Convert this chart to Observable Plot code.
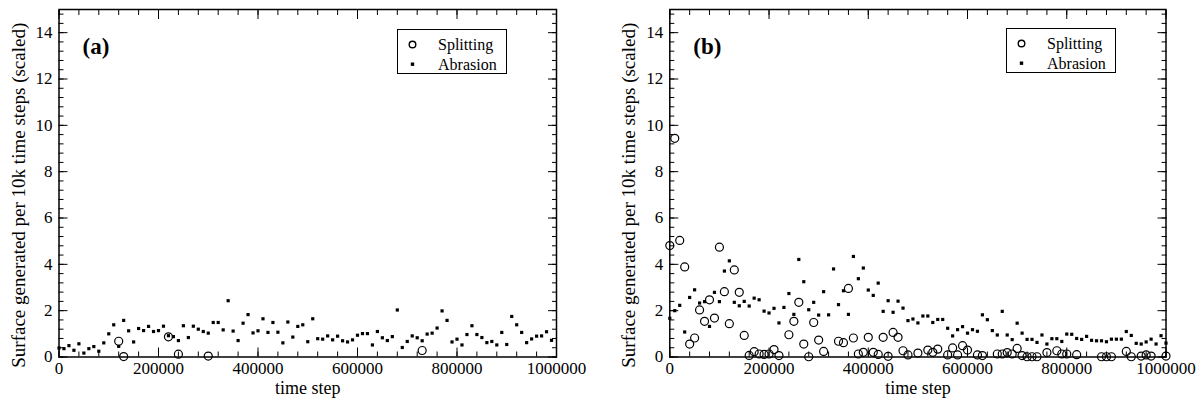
<!DOCTYPE html>
<html><head><meta charset="utf-8">
<script src="https://cdn.jsdelivr.net/npm/d3@7"></script>
<script src="https://cdn.jsdelivr.net/npm/@observablehq/plot@0.6"></script>
<style>
body{margin:0;background:#fff;}
#wrap{position:relative;width:1203px;height:402px;display:flex;overflow:hidden;}
svg text{font-family:"Liberation Serif",serif;}
.legend{position:absolute;border:1px solid #000;background:#fff;width:108px;height:43px;font-family:"Liberation Serif",serif;font-size:16px;color:#000;}
.legend .lab{position:absolute;left:40px;line-height:16px;}
.legend svg{position:absolute;left:0;top:0;}
</style></head><body><div id="wrap"></div>
<script>
const seriesNames = ["Splitting", "Abrasion"];
const panelLabels = ["(a)", "(b)"];
const xLabel = "time step";
const yLabel = "Surface generated per 10k time steps (scaled)";
const xTicksMajor = [0, 200000, 400000, 600000, 800000, 1000000];
const yTicksMajor = [0, 2, 4, 6, 8, 10, 12, 14];
const xTicksMinor = d3.range(0, 1000001, 40000);
const yTicksMinor = d3.range(0, 15.01, 0.4);
const sampleStep = 10000;

// Panel (a)
const abrasionA = [0.39,0.36,0.49,0.29,0.57,0.17,0.36,0.45,0.25,0.61,
 1.0,1.39,0.46,1.58,1.13,0.65,1.23,1.14,1.32,1.10,
 1.14,1.33,0.92,0.88,0.71,1.35,0.84,1.33,1.2,1.1,
 1.03,1.49,1.49,1.17,2.43,1.12,0.71,1.46,1.83,1.04,
 1.13,1.65,1.06,1.49,1.07,0.61,1.51,0.86,1.32,1.39,
 0.66,1.65,0.79,0.77,0.91,0.74,0.90,0.70,0.65,0.74,
 0.94,1.01,1.01,0.52,1.10,0.83,0.71,0.88,2.03,0.41,
 0.67,0.91,0.83,0.70,0.99,1.03,1.25,1.99,1.58,0.65,
 0.77,0.52,0.97,1.35,0.97,0.84,0.62,0.67,0.52,1.06,
 0.54,1.75,1.39,1.06,0.62,0.78,0.90,0.91,1.09,0.72];
const splitStepsA = [120000, 130000, 220000, 240000, 300000, 730000];
const splitValsA = [0.68, 0.02, 0.87, 0.12, 0.04, 0.28];

// Panel (b)
const abrasionB = [1.67,2.0,2.23,1.08,2.57,2.9,2.33,2.39,1.32,2.79,
 2.39,3.71,4.15,2.36,2.21,2.4,2.2,2.54,2.47,1.98,
 1.9,2.1,1.47,2.14,2.74,1.84,4.21,3.25,2.04,2.36,
 1.81,2.82,1.82,3.80,2.26,2.86,1.84,4.34,3.38,3.84,
 2.89,2.66,3.19,1.97,2.43,1.93,2.41,2.11,1.57,1.64,
 1.47,1.77,1.77,1.49,1.62,1.62,1.24,0.91,1.18,1.31,
 1.03,1.18,1.11,1.82,1.61,1.14,0.95,1.97,0.95,0.75,
 1.46,1.03,0.76,0.76,0.63,0.95,0.56,0.79,0.79,0.67,
 0.99,0.98,0.8,0.76,0.89,0.72,0.7,0.7,0.66,0.77,
 0.77,0.77,1.1,0.93,0.59,0.56,0.65,0.77,0.56,0.92,
 0.6];
const splitStepsB = [0,10000,20000,30000,40000,50000,60000,70000,80000,90000,
 100000,110000,120000,130000,140000,150000,160000,170000,180000,190000,
 200000,210000,220000,240000,250000,260000,270000,280000,290000,300000,
 310000,340000,350000,360000,370000,380000,390000,400000,410000,420000,
 430000,440000,450000,460000,470000,480000,500000,520000,530000,540000,
 560000,570000,580000,590000,600000,620000,630000,660000,670000,680000,
 690000,700000,710000,720000,730000,740000,760000,780000,790000,800000,
 820000,870000,880000,890000,920000,930000,950000,960000,970000,1000000];
const splitValsB = [4.81,9.44,5.03,3.89,0.56,0.82,2.03,1.54,2.47,1.68,
 4.74,2.82,1.44,3.76,2.79,0.93,0.07,0.23,0.13,0.11,
 0.13,0.32,0.06,0.96,1.54,2.36,0.56,0.01,1.49,0.73,
 0.24,0.68,0.62,2.96,0.82,0.13,0.2,0.85,0.2,0.11,
 0.85,0.03,1.06,0.85,0.27,0.09,0.17,0.30,0.2,0.34,
 0.09,0.39,0.09,0.49,0.3,0.09,0.06,0.13,0.13,0.19,
 0.13,0.37,0.06,0.01,0.01,0.01,0.19,0.27,0.13,0.13,
 0.1,0.01,0.01,0.01,0.24,0.01,0.04,0.09,0.04,0.04];

const font = "Liberation Serif";
const blank = () => "";

function panel({abrasion, splitSteps, splitVals, label, width, marginLeft, marginRight}) {
  const abr = abrasion.map((v, i) => ({x: i * sampleStep, y: v}));
  const spl = splitSteps.map((s, i) => ({x: s, y: splitVals[i]}));
  return Plot.plot({
    width, height: 402,
    marginLeft, marginRight, marginTop: 9, marginBottom: 45.5,
    style: {fontFamily: font, fontSize: "17px", color: "black", background: "white", overflow: "visible"},
    x: {domain: [0, 1000000]},
    y: {domain: [0, 15]},
    marks: [
      Plot.axisX(xTicksMinor, {anchor: "bottom", tickSize: -5, tickFormat: blank, label: null}),
      Plot.axisX(xTicksMajor, {anchor: "bottom", tickSize: -9, tickFormat: blank, label: null}),
      Plot.axisX(xTicksMinor, {anchor: "top", tickSize: -5, tickFormat: blank, label: null}),
      Plot.axisX(xTicksMajor, {anchor: "top", tickSize: -9, tickFormat: blank, label: null}),
      Plot.axisY(yTicksMinor, {anchor: "left", tickSize: -5, tickFormat: blank, label: null}),
      Plot.axisY(yTicksMajor, {anchor: "left", tickSize: -9, tickFormat: blank, label: null}),
      Plot.axisY(yTicksMinor, {anchor: "right", tickSize: -5, tickFormat: blank, label: null}),
      Plot.axisY(yTicksMajor, {anchor: "right", tickSize: -9, tickFormat: blank, label: null}),
      Plot.axisX(xTicksMajor, {anchor: "bottom", tickSize: 0, tickPadding: 5, tickFormat: d3.format("d"), label: null, fontSize: 17, fontFamily: font}),
      Plot.axisY(yTicksMajor, {anchor: "left", tickSize: 0, tickPadding: 6.5, tickFormat: d3.format("d"), label: null, fontSize: 17, fontFamily: font}),
      Plot.frame({stroke: "black", strokeWidth: 1.5}),
      Plot.dot(abr, {x: "x", y: "y", symbol: "square", r: 1.8, fill: "black", stroke: "none"}),
      Plot.dot(spl, {x: "x", y: "y", r: 4, stroke: "black", strokeWidth: 1.2, fill: "none"}),
      Plot.text([label], {text: d => d, frameAnchor: "top-left", dx: 23.5, dy: 44, textAnchor: "start", lineAnchor: "bottom", fontWeight: "bold", fontSize: 23, fontFamily: font}),
      Plot.text([xLabel], {text: d => d, frameAnchor: "bottom", dy: 36.5, lineAnchor: "bottom", fontSize: 18, fontFamily: font}),
      Plot.text([yLabel], {text: d => d, frameAnchor: "left", rotate: -90, dx: -40.5, dy: 12, lineAnchor: "middle", textAnchor: "middle", fontSize: 19, fontFamily: font})
    ]
  });
}

const wrap = document.getElementById("wrap");
wrap.appendChild(panel({abrasion: abrasionA, splitSteps: splitStepsA, splitVals: splitValsA, label: panelLabels[0], width: 600, marginLeft: 58.5, marginRight: 44}));
wrap.appendChild(panel({abrasion: abrasionB, splitSteps: splitStepsB, splitVals: splitValsB, label: panelLabels[1], width: 603, marginLeft: 69.3, marginRight: 37.5}));

function legend(left, top) {
  const d = document.createElement("div");
  d.className = "legend";
  d.style.left = left + "px";
  d.style.top = top + "px";
  const ns = "http://www.w3.org/2000/svg";
  const svg = document.createElementNS(ns, "svg");
  svg.setAttribute("width", 108); svg.setAttribute("height", 43);
  const c = document.createElementNS(ns, "circle");
  c.setAttribute("cx", 14.5); c.setAttribute("cy", 14.5); c.setAttribute("r", 3.3);
  c.setAttribute("fill", "none"); c.setAttribute("stroke", "black"); c.setAttribute("stroke-width", 1.4);
  const r = document.createElementNS(ns, "rect");
  r.setAttribute("x", 12.8); r.setAttribute("y", 32.5); r.setAttribute("width", 3.4); r.setAttribute("height", 3.4);
  r.setAttribute("fill", "black");
  svg.appendChild(c); svg.appendChild(r);
  d.appendChild(svg);
  seriesNames.forEach((n, i) => {
    const s = document.createElement("div");
    s.className = "lab";
    s.style.top = (6.6 + i * 20) + "px";
    s.textContent = n;
    d.appendChild(s);
  });
  wrap.appendChild(d);
}
legend(397, 29);
legend(1006, 28);
</script>
</body></html>
